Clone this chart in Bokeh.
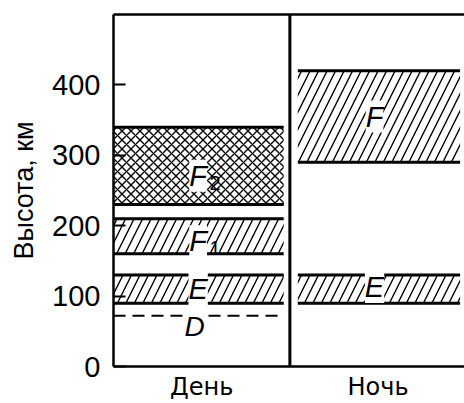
from bokeh.plotting import figure
from bokeh.models import ColumnDataSource, FixedTicker, LinearAxis, Span, Range1d
from bokeh.embed import file_html
from bokeh.resources import INLINE
from bokeh.core.properties import value

# ---- data ----
columns = ["День", "Ночь"]
layer_names = ["E", "F", "F", "E", "F"]
layer_subscripts = ["", "1", "2", "", ""]
layer_column = [0, 0, 0, 1, 1]
layer_bottom = [90, 160, 230, 90, 290]
layer_top = [130, 210, 340, 130, 420]
layer_hatch = ["/", "/", "x", "/", "/"]
d_layer_name = "D"
d_layer_height = 72
y_ticks = [0, 100, 200, 300, 400]
y_max = 500

# ---- derived geometry / styles ----
left = [c + (0.045 if c else 0.0) for c in layer_column]
right = [c + 0.965 for c in layer_column]
mid = [(b + t) / 2 for b, t in zip(layer_bottom, layer_top)]
lab_x = [c + 0.48 for c in layer_column]
lab_dy = [0, 5, 10, -2, 0]
sub_dy = [0, 12, 17, 0, 0]
hscale = [9 if h == "x" else 17 for h in layer_hatch]

src = ColumnDataSource(dict(left=left, right=right, bottom=layer_bottom, top=layer_top,
                            hatch=layer_hatch, hscale=hscale, mid=mid, lx=lab_x,
                            name=layer_names, sub=layer_subscripts, dy=lab_dy, sdy=sub_dy))

p = figure(width=464, height=403, output_backend="svg", toolbar_location=None,
           x_range=Range1d(0, 1.99), y_range=Range1d(0, y_max),
           min_border_left=113, min_border_right=0, min_border_top=14, min_border_bottom=36)
p.outline_line_color = None
p.xgrid.visible = False
p.ygrid.visible = False
p.background_fill_color = "white"
p.border_fill_color = "white"

# hatched bands
p.quad(left="left", right="right", bottom="bottom", top="top", source=src,
       fill_color="white", line_color=None, hatch_pattern="hatch",
       hatch_color="black", hatch_weight=1.4, hatch_scale="hscale")
# band boundaries
p.segment(x0="left", x1="right", y0="top", y1="top", source=src, line_color="black", line_width=3)
p.segment(x0="left", x1="right", y0="bottom", y1="bottom", source=src, line_color="black", line_width=3)
# D layer dashed
p.segment(x0=[0.0], x1=[0.965], y0=[d_layer_height], y1=[d_layer_height],
          line_color="black", line_width=2, line_dash="12 7")

# labels
p.text(x="lx", y="mid", text="name", source=src, text_font=value("Liberation Sans"),
       text_font_style="italic", text_font_size="29px", text_align="center",
       text_baseline="middle", y_offset="dy", background_fill_color="white")
p.text(x="lx", y="mid", text="sub", source=src, text_font=value("Liberation Sans"),
       text_font_size="20px", text_align="center", text_baseline="middle",
       x_offset=17, y_offset="sdy")
p.text(x=[0.46], y=[d_layer_height], text=[d_layer_name], text_font=value("Liberation Sans"),
       text_font_style="italic", text_font_size="28px", text_align="center",
       text_baseline="middle", y_offset=11, background_fill_color="white")

# divider
p.add_layout(Span(location=1, dimension="height", line_color="black", line_width=3))

# axes
ya = p.yaxis[0]
ya.ticker = FixedTicker(ticks=y_ticks)
ya.minor_tick_line_color = None
ya.major_tick_in = 12
ya.major_tick_out = 0
ya.major_tick_line_width = 2
ya.axis_line_width = 2.5
ya.major_label_standoff = 13
ya.major_label_text_font = "Liberation Sans"
ya.major_label_text_font_size = "29px"
ya.major_label_text_color = "black"
ya.axis_label = "Высота, км"
ya.axis_label_text_font = "Liberation Sans"
ya.axis_label_text_font_style = "normal"
ya.axis_label_text_font_size = "27px"
ya.axis_label_text_color = "black"
ya.axis_label_standoff = 10

xa = p.xaxis[0]
xa.ticker = FixedTicker(ticks=[c + 0.5 for c in range(len(columns))])
xa.major_label_overrides = {c + 0.5: name for c, name in enumerate(columns)}
xa.major_tick_line_color = None
xa.major_tick_in = 0
xa.major_tick_out = 0
xa.minor_tick_line_color = None
xa.axis_line_width = 2.5
xa.major_label_standoff = 6
xa.major_label_text_font = "DejaVu Sans"
xa.major_label_text_font_size = "24px"
xa.major_label_text_color = "black"

top_axis = LinearAxis(ticker=FixedTicker(ticks=[]), axis_line_width=2.5,
                      major_tick_line_color=None, minor_tick_line_color=None)
p.add_layout(top_axis, "above")

open("out.html", "w").write(file_html(p, INLINE))
